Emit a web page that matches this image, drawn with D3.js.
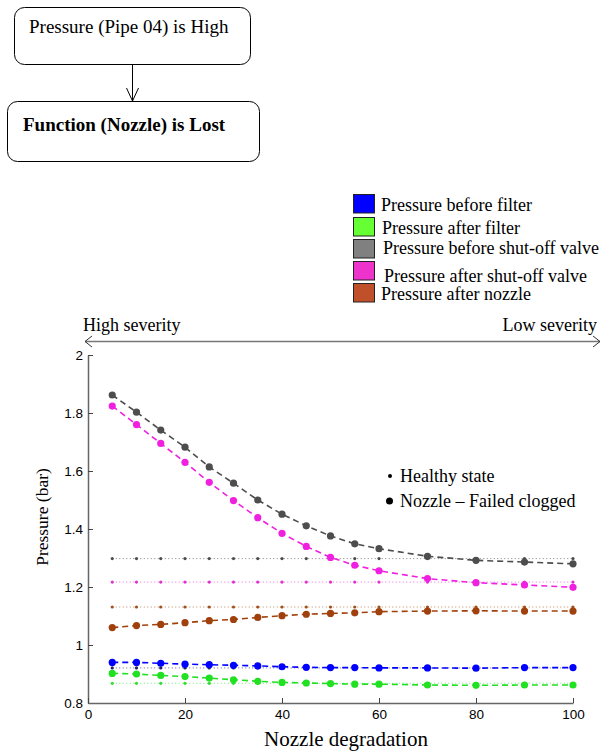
<!DOCTYPE html>
<html>
<head>
<meta charset="utf-8">
<script src="https://cdn.jsdelivr.net/npm/d3@7/dist/d3.min.js"></script>
<style>
body { margin: 0; background: white; }
text { font-family: "Liberation Serif", "Times New Roman", serif; }
.tick text { font-family: "Liberation Sans", Arial, sans-serif; font-size: 13.5px; fill: black; }
</style>
</head>
<body>
<script>
// degradation steps (x) and pressures
var degradation = [5, 10, 15, 20, 25, 30, 35, 40, 45, 50, 55, 60, 70, 80, 90, 100];

var seriesNames = ["Pressure before filter", "Pressure after filter", "Pressure before shut-off valve",
                   "Pressure after shut-off valve", "Pressure after nozzle"];

// nozzle failed clogged
var beforeFilter = [0.940, 0.940, 0.937, 0.934, 0.932, 0.930, 0.928, 0.925, 0.923, 0.922, 0.922, 0.921, 0.921, 0.920, 0.922, 0.922];
var afterFilter  = [0.902, 0.900, 0.895, 0.891, 0.886, 0.880, 0.875, 0.871, 0.869, 0.867, 0.865, 0.865, 0.862, 0.861, 0.862, 0.862];
var beforeValve  = [1.862, 1.803, 1.741, 1.682, 1.614, 1.558, 1.500, 1.451, 1.411, 1.376, 1.349, 1.332, 1.306, 1.292, 1.286, 1.280];
var afterValve   = [1.824, 1.760, 1.695, 1.630, 1.561, 1.498, 1.439, 1.385, 1.340, 1.302, 1.275, 1.256, 1.229, 1.215, 1.207, 1.199];
var afterNozzle  = [1.060, 1.067, 1.071, 1.077, 1.084, 1.088, 1.095, 1.101, 1.106, 1.109, 1.111, 1.115, 1.117, 1.118, 1.117, 1.117];

// healthy state (constant)
var healthy = [0.921, 0.868, 1.298, 1.217, 1.131];

var xTicks = [0, 20, 40, 60, 80, 100];
var yTicks = [0.8, 1, 1.2, 1.4, 1.6, 1.8, 2];

var lineColours = ["#0000ff", "#22e022", "#4d4d4d", "#f020e0", "#a0400c"];
var healthyColours = ["#202060", "#33dd33", "#4d4d4d", "#e030d0", "#a0501c"];
var swatchColours = ["#0000ff", "#66ff33", "#808080", "#ee33cc", "#c0502a"];

var failed = [beforeFilter, afterFilter, beforeValve, afterValve, afterNozzle];

var svg = d3.select("body").append("svg")
    .attr("width", 609).attr("height", 754);

/* the little fault tree at the top */
svg.append("rect").attr("x", 14.5).attr("y", 7.5).attr("width", 236).attr("height", 57)
    .attr("rx", 10).attr("ry", 10).attr("fill", "white").attr("stroke", "black");
svg.append("text").attr("x", 29).attr("y", 33).attr("font-size", 19).text("Pressure (Pipe 04) is High");

svg.append("line").attr("x1", 132.5).attr("x2", 132.5).attr("y1", 65).attr("y2", 101).attr("stroke", "black");
svg.append("path").attr("d", "M126.5,88 L132.5,101 L138.5,88").attr("fill", "none").attr("stroke", "black");

svg.append("rect").attr("x", 7.5).attr("y", 101.5).attr("width", 252).attr("height", 60)
    .attr("rx", 10).attr("ry", 10).attr("fill", "white").attr("stroke", "black");
svg.append("text").attr("x", 23).attr("y", 131).attr("font-size", 19).attr("font-weight", "bold")
    .text("Function (Nozzle) is Lost");

/* colour legend */
var legend = svg.append("g");
var swatchY = [194, 217, 239, 261, 283];
var labelY = [211, 234, 254, 282, 300];
var labelX = [381, 382, 383, 384, 381];
seriesNames.forEach(function(name, i) {
    legend.append("rect").attr("x", 353.5).attr("y", swatchY[i] + 0.5).attr("width", 21).attr("height", 18.5)
        .attr("fill", swatchColours[i]).attr("stroke", "#222").attr("stroke-width", 1);
    legend.append("text").attr("x", labelX[i]).attr("y", labelY[i]).attr("font-size", 18).text(name);
});

/* severity arrow */
svg.append("line").attr("x1", 85).attr("x2", 600).attr("y1", 341.5).attr("y2", 341.5)
    .attr("stroke", "#777").attr("stroke-width", 1.5);
svg.append("path").attr("d", "M92,336 L85,341.5 L92,347").attr("fill", "none").attr("stroke", "#333");
svg.append("path").attr("d", "M593,336 L600,341.5 L593,347").attr("fill", "none").attr("stroke", "#333");
svg.append("text").attr("x", 83).attr("y", 331).attr("font-size", 18).text("High severity");
svg.append("text").attr("x", 597).attr("y", 331).attr("font-size", 18).attr("text-anchor", "end").text("Low severity");

/* the plot */
var x = d3.scaleLinear().domain([0, 100]).range([88, 573]);
var y = d3.scaleLinear().domain([0.8, 2]).range([703, 355]);

var line = d3.line().x(function(d) { return x(d[0]); }).y(function(d) { return y(d[1]); });

// healthy state, dotted
healthy.forEach(function(h, i) {
    var pts = degradation.map(function(d) { return [d, h]; });
    svg.append("path").datum(pts).attr("d", line)
        .attr("fill", "none").attr("stroke", healthyColours[i]).attr("stroke-width", 1)
        .attr("stroke-dasharray", "1,2.5").attr("opacity", 0.7);
    svg.append("g").selectAll("circle").data(pts).enter().append("circle")
        .attr("cx", function(d) { return x(d[0]); }).attr("cy", function(d) { return y(d[1]); })
        .attr("r", 1.6).attr("fill", healthyColours[i]);
});

// failed clogged, dashed with big dots
failed.forEach(function(vals, i) {
    var pts = degradation.map(function(d, j) { return [d, vals[j]]; });
    svg.append("path").datum(pts).attr("d", line)
        .attr("fill", "none").attr("stroke", lineColours[i]).attr("stroke-width", 1.6)
        .attr("stroke-dasharray", "6,4");
    svg.append("g").selectAll("circle").data(pts).enter().append("circle")
        .attr("cx", function(d) { return x(d[0]); }).attr("cy", function(d) { return y(d[1]); })
        .attr("r", 3.6).attr("fill", lineColours[i]);
});

var fmt = function(d) { return String(+d.toFixed(1)); };

var yAxis = svg.append("g").attr("transform", "translate(88,0)")
    .call(d3.axisLeft(y).tickValues(yTicks).tickSizeInner(-5).tickSizeOuter(0).tickPadding(5).tickFormat(fmt));
var xAxis = svg.append("g").attr("transform", "translate(0,703)")
    .call(d3.axisBottom(x).tickValues(xTicks).tickSizeInner(-5).tickSizeOuter(0).tickPadding(6).tickFormat(fmt));
svg.selectAll(".domain").attr("stroke", "#666").attr("stroke-width", 1.5);
svg.selectAll(".tick line").attr("stroke", "#444");

svg.append("text").attr("transform", "translate(48,517) rotate(-90)").attr("text-anchor", "middle")
    .attr("font-size", 17.5).text("Pressure (bar)");
svg.append("text").attr("x", 346).attr("y", 746).attr("text-anchor", "middle")
    .attr("font-size", 21).text("Nozzle degradation");

/* marker legend */
svg.append("circle").attr("cx", 390).attr("cy", 476).attr("r", 2).attr("fill", "black");
svg.append("text").attr("x", 400).attr("y", 482).attr("font-size", 18).text("Healthy state");
svg.append("circle").attr("cx", 389.5).attr("cy", 501).attr("r", 3.5).attr("fill", "black");
svg.append("text").attr("x", 400).attr("y", 507).attr("font-size", 18).text("Nozzle \u2013 Failed clogged");
</script>
</body>
</html>
